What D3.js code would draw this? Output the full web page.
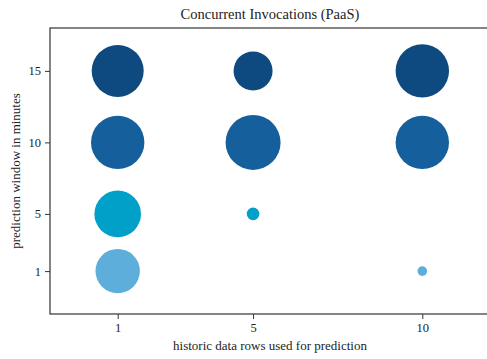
<!DOCTYPE html>
<html>
<head>
<meta charset="utf-8">
<script src="https://cdn.jsdelivr.net/npm/d3@7"></script>
<style>
  body { margin: 0; background: #fff; }
  text { font-family: "Liberation Serif", "Times New Roman", serif; fill: #222; }
</style>
</head>
<body>
<div id="chart"></div>
<script>
// historic rows (x), prediction window (y), bubble size, group
const historyRows = [1, 5, 10, 1, 5, 10, 1, 5, 1, 10];
const windowMinutes = [15, 15, 15, 10, 10, 10, 5, 5, 1, 1];
const bubbleSize = [676, 380, 713, 713, 756, 713, 543, 40, 493, 23];
const xTicks = [1, 5, 10];
const yTicks = [1, 5, 10, 15];
const windowColors = {15: "#0e4a7f", 10: "#15609c", 5: "#00a0c8", 1: "#5eaedc"};

let width = 487,
    height = 359;
let margin = {top: 28, right: -3, bottom: 45, left: 50};

let svg = d3.select("#chart")
    .append("svg")
    .attr("width", width)
    .attr("height", height);

let x = d3.scaleLinear()
    .domain([-1, 12])
    .range([margin.left, width - margin.right]);

let y = d3.scaleLinear()
    .domain([-2, 18])
    .range([height - margin.bottom, margin.top]);

let r = d3.scaleSqrt()
    .domain([0, 1000])
    .range([0, Math.sqrt(1000)]);

let data = historyRows.map(function (d, i) {
    return {x: d, y: windowMinutes[i], s: bubbleSize[i]};
});

svg.selectAll(".bubble")
    .data(data)
    .enter().append("circle")
    .attr("class", "bubble")
    .attr("cx", function (d) { return x(d.x); })
    .attr("cy", function (d) { return y(d.y); })
    .attr("r", function (d) { return r(d.s); })
    .attr("fill", function (d) { return windowColors[d.y]; });

// frame
svg.append("rect")
    .attr("x", margin.left)
    .attr("y", margin.top)
    .attr("width", x.range()[1] - margin.left)
    .attr("height", y.range()[0] - margin.top)
    .attr("fill", "none")
    .attr("stroke", "#333")
    .attr("stroke-width", 1.2);

let xAxis = svg.append("g")
    .attr("transform", "translate(0," + y.range()[0] + ")")
    .call(d3.axisBottom(x).tickValues(xTicks).tickSize(5).tickPadding(4));

let yAxis = svg.append("g")
    .attr("transform", "translate(" + margin.left + ",0)")
    .call(d3.axisLeft(y).tickValues(yTicks).tickSize(5).tickPadding(4));

[xAxis, yAxis].forEach(function (g) {
    g.attr("font-family", null);
    g.select(".domain").remove();
    g.selectAll(".tick line").attr("stroke", "#333");
    g.selectAll(".tick text")
        .style("font-family", "'Liberation Serif', serif")
        .style("font-size", "12.5px")
        .attr("fill", "#222");
});

svg.append("text")
    .attr("x", (margin.left + x.range()[1]) / 2)
    .attr("y", 19)
    .attr("text-anchor", "middle")
    .style("font-size", "14.5px")
    .text("Concurrent Invocations (PaaS)");

svg.append("text")
    .attr("x", (margin.left + x.range()[1]) / 2)
    .attr("y", 350)
    .attr("text-anchor", "middle")
    .style("font-size", "13px")
    .text("historic data rows used for prediction");

svg.append("text")
    .attr("transform", "translate(20," + (margin.top + y.range()[0]) / 2 + ") rotate(-90)")
    .attr("text-anchor", "middle")
    .style("font-size", "13px")
    .text("prediction window in minutes");
</script>
</body>
</html>
